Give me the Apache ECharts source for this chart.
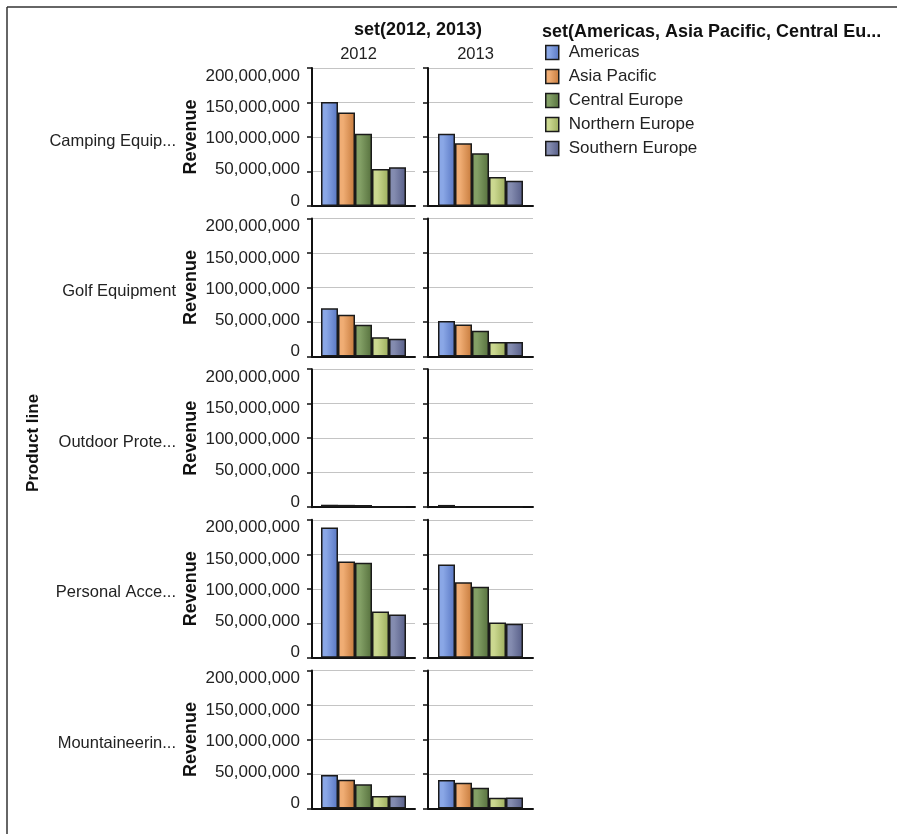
<!DOCTYPE html>
<html>
<head>
<meta charset="utf-8">
<script src="https://cdn.jsdelivr.net/npm/echarts@6/dist/echarts.min.js"></script>
<style>
  html, body { margin: 0; padding: 0; background: #fff; }
  #chart { width: 906px; height: 834px; }
</style>
</head>
<body>
<div id="chart"></div>
<script>
// categories
const productLines = ['Camping Equip...', 'Golf Equipment', 'Outdoor Prote...', 'Personal Acce...', 'Mountaineerin...']
const years = ['2012', '2013']
const regions = ['Americas', 'Asia Pacific', 'Central Europe', 'Northern Europe', 'Southern Europe']
const yTicks = [0, 50000000, 100000000, 150000000, 200000000]

// revenue per region (Americas, Asia Pacific, Central, Northern, Southern)
const camping2012 = [150600000, 135500000, 104600000, 53700000, 56200000]
const camping2013 = [104600000, 91000000, 76500000, 42000000, 36700000]
const golf2012 = [69900000, 60700000, 46100000, 28200000, 25800000]
const golf2013 = [51500000, 46600000, 37400000, 21000000, 21000000]
const outdoor2012 = [3600000, 3400000, 3200000, 400000, 300000]
const outdoor2013 = [3300000, 200000, 200000, 100000, 100000]
const personal2012 = [188900000, 139700000, 137800000, 67200000, 62800000]
const personal2013 = [135300000, 109500000, 102800000, 51100000, 49200000]
const mountain2012 = [48400000, 41600000, 34900000, 17900000, 18200000]
const mountain2013 = [41100000, 37200000, 30000000, 15400000, 15700000]

const panels = [
  [camping2012, camping2013],
  [golf2012, golf2013],
  [outdoor2012, outdoor2013],
  [personal2012, personal2013],
  [mountain2012, mountain2013],
]

// light / dark shades for the bar gradients
const shades = [
  ['#8aa7e6', '#5876c2'],
  ['#f0ad74', '#c67a3c'],
  ['#83a066', '#56703d'],
  ['#cbd890', '#9cad5c'],
  ['#848cb0', '#565d87'],
]

const FONT = 'Liberation Sans, Arial, sans-serif'
const colLeft = [312, 428]
const colWidth = [103, 105]
const rowTop = 68
const rowStep = 150.6
const rowHeight = 138

// the tick labels sit a little off their grid lines in the original
const labelShift = [-5, -2, 1.5, 5, 8]
let rich = {}
labelShift.forEach((d, i) => {
  rich['s' + i] = {
    fontFamily: FONT,
    fontSize: 17,
    color: '#222',
    padding: d >= 0 ? [2 * d, 0, 0, 0] : [0, 0, -2 * d, 0],
  }
})

let grids = []
let xAxes = []
let yAxes = []
let series = []
let graphics = []

function barColor (k) {
  return {
    type: 'linear', x: 0, y: 0, x2: 1, y2: 0,
    colorStops: [
      { offset: 0, color: shades[k][0] },
      { offset: 0.3, color: shades[k][0] },
      { offset: 1, color: shades[k][1] },
    ],
  }
}

panels.forEach((row, r) => {
  row.forEach((vals, c) => {
    let idx = grids.length
    grids.push({
      left: colLeft[c],
      top: rowTop + r * rowStep,
      width: colWidth[c],
      height: rowHeight,
    })
    xAxes.push({
      type: 'category',
      gridIndex: idx,
      data: [years[c]],
      axisLine: { lineStyle: { color: '#111', width: 2 } },
      axisTick: { alignWithLabel: true, length: 5, lineStyle: { color: '#111', width: 1.5 } },
      axisLabel: { show: false },
    })
    yAxes.push({
      type: 'value',
      gridIndex: idx,
      min: 0,
      max: yTicks[yTicks.length - 1],
      interval: yTicks[1] - yTicks[0],
      name: c === 0 ? 'Revenue' : '',
      nameLocation: 'middle',
      nameGap: 112,
      nameTextStyle: { fontFamily: FONT, fontSize: 18, fontWeight: 'bold', color: '#111' },
      axisLine: { show: true, lineStyle: { color: '#111', width: 2 } },
      axisTick: { show: true, length: 5, lineStyle: { color: '#111', width: 1.5 } },
      axisLabel: {
        show: c === 0,
        margin: 12,
        fontFamily: FONT,
        fontSize: 17,
        color: '#222',
        formatter: v => '{s' + yTicks.indexOf(v) + '|' + v.toLocaleString('en-US') + '}',
        rich: rich,
      },
      splitLine: { lineStyle: { color: '#c4c4c4', width: 1 } },
    })
    regions.forEach((name, k) => {
      series.push({
        type: 'bar',
        name: name,
        xAxisIndex: idx,
        yAxisIndex: idx,
        data: [vals[k]],
        barWidth: 17,
        barGap: '0%',
        itemStyle: { color: barColor(k), borderColor: '#1a1a1a', borderWidth: 1.5 },
        emphasis: { disabled: true },
      })
    })
  })
  // row label
  graphics.push({
    type: 'text',
    x: 176,
    y: rowTop + r * rowStep + rowHeight / 2 + 4,
    style: { text: productLines[r], font: '16.5px ' + FONT, fill: '#222', align: 'right', verticalAlign: 'middle' },
  })
})

// headers
graphics.push({
  type: 'text', x: 418, y: 30,
  style: { text: 'set(2012, 2013)', font: 'bold 18px ' + FONT, fill: '#111', align: 'center', verticalAlign: 'middle' },
})
years.forEach((y, c) => {
  graphics.push({
    type: 'text', x: colLeft[c] + colWidth[c] / 2 - 5, y: 54,
    style: { text: y, font: '16.5px ' + FONT, fill: '#222', align: 'center', verticalAlign: 'middle' },
  })
})
graphics.push({
  type: 'text', x: 33, y: 443, rotation: Math.PI / 2,
  style: { text: 'Product line', font: 'bold 17px ' + FONT, fill: '#111', align: 'center', verticalAlign: 'middle' },
})
graphics.push({
  type: 'text', x: 542, y: 32,
  style: { text: 'set(Americas, Asia Pacific, Central Eu...', font: 'bold 18px ' + FONT, fill: '#111', align: 'left', verticalAlign: 'middle' },
})
// frame
graphics.push({ type: 'line', shape: { x1: 7, y1: 7, x2: 897, y2: 7 }, style: { stroke: '#333', lineWidth: 1.5 } })
graphics.push({ type: 'line', shape: { x1: 7, y1: 7, x2: 7, y2: 834 }, style: { stroke: '#333', lineWidth: 1.5 } })

let myChart = echarts.init(document.getElementById('chart'))
myChart.setOption({
  animation: false,
  grid: grids,
  xAxis: xAxes,
  yAxis: yAxes,
  series: series,
  legend: {
    data: regions,
    orient: 'vertical',
    left: 545,
    top: 43,
    padding: 0,
    icon: 'rect',
    itemWidth: 13,
    itemHeight: 14,
    itemGap: 5,
    itemStyle: { borderColor: '#1a1a1a', borderWidth: 1.5 },
    textStyle: { fontFamily: FONT, fontSize: 17, color: '#222', lineHeight: 19, padding: [0, 0, 0, 5] },
    selectedMode: false,
  },
  graphic: graphics,
})
</script>
</body>
</html>
